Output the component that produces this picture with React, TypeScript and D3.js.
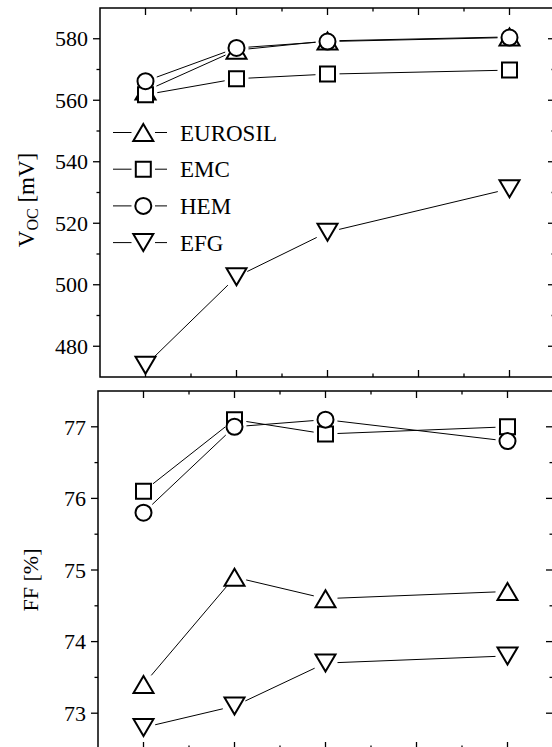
import React from 'react'
import * as d3 from 'd3'

// x positions of the four measurements (tick labels are not shown in the figure)
const xSteps = [1, 2, 3, 5]
const xTicks = [1, 2, 3, 4, 5]

const seriesNames = ['EUROSIL', 'EMC', 'HEM', 'EFG']
const seriesMarkers = ['up', 'square', 'circle', 'down']

// open-circuit voltage [mV]
const vocEurosil = [563, 576.3, 579.3, 580.6]
const vocEmc = [561.8, 567, 568.5, 569.8]
const vocHem = [566.2, 577, 579.1, 580.4]
const vocEfg = [473.8, 502.6, 517.1, 531.2]

// fill factor [%]
const ffEurosil = [73.4, 74.9, 74.6, 74.7]
const ffEmc = [76.1, 77.1, 76.9, 77.0]
const ffHem = [75.8, 77.0, 77.1, 76.8]
const ffEfg = [72.8, 73.1, 73.7, 73.8]

const vocTicks = [480, 500, 520, 540, 560, 580]
const ffTicks = [73, 74, 75, 76, 77]

const FONT = "'Liberation Serif', 'Times New Roman', Times, serif"

const markerPath = (kind: string) => {
  if (kind === 'up') return 'M0,-8.5L10,8.5L-10,8.5Z'
  if (kind === 'down') return 'M0,8.5L10,-8.5L-10,-8.5Z'
  if (kind === 'square') return 'M-7.5,-7.5H7.5V7.5H-7.5Z'
  return d3.symbol().type(d3.symbolCircle).size(Math.PI * 64)() || ''
}

// shorten a segment so the line stops before the markers, like Origin does
const gapSegment = (a: number[], b: number[], gap: number) => {
  const dx = b[0] - a[0], dy = b[1] - a[1]
  const len = Math.sqrt(dx * dx + dy * dy)
  if (len < gap * 2) return null
  const ux = dx / len, uy = dy / len
  return [a[0] + ux * gap, a[1] + uy * gap, b[0] - ux * gap, b[1] - uy * gap]
}

function Panel (props: any) {
  const { left, right, top, bottom, domain, ticks, minorStep, series, label, labelX, labelY, legend } = props
  const x = d3.scaleLinear().domain([0.5, 5.5]).range([left, right])
  const y = d3.scaleLinear().domain(domain).range([bottom, top])

  const majorY = ticks
  const minorY = ticks.map((t: number) => t + minorStep).filter((v: number) => v < domain[1] - 0.001)
  const majorX = xTicks
  const minorX = xTicks.slice(0, -1).map(t => t + 0.5)

  const tickLines: any[] = []
  majorY.forEach((v: number, i: number) => {
    tickLines.push(<line key={'ly' + i} x1={left - 7} x2={left} y1={y(v)} y2={y(v)} />)
    tickLines.push(<line key={'ry' + i} x1={right - 7} x2={right} y1={y(v)} y2={y(v)} />)
  })
  minorY.forEach((v: number, i: number) => {
    tickLines.push(<line key={'lmy' + i} x1={left - 3.5} x2={left} y1={y(v)} y2={y(v)} />)
    tickLines.push(<line key={'rmy' + i} x1={right - 3.5} x2={right} y1={y(v)} y2={y(v)} />)
  })
  majorX.forEach((v, i) => {
    tickLines.push(<line key={'tx' + i} x1={x(v)} x2={x(v)} y1={top} y2={top + 7} />)
    tickLines.push(<line key={'bx' + i} x1={x(v)} x2={x(v)} y1={bottom} y2={bottom - 7} />)
  })
  minorX.forEach((v, i) => {
    tickLines.push(<line key={'tmx' + i} x1={x(v)} x2={x(v)} y1={top} y2={top + 3.5} />)
    tickLines.push(<line key={'bmx' + i} x1={x(v)} x2={x(v)} y1={bottom} y2={bottom - 3.5} />)
  })

  return (
    <g>
      <g stroke='#000' strokeWidth={1.3}>{tickLines}</g>
      <rect x={left} y={top} width={right - left} height={bottom - top} fill='none' stroke='#000' strokeWidth={1.5} />
      {majorY.map((v: number) => (
        <text key={v} x={left - 12} y={y(v)} dy='0.35em' textAnchor='end' fontSize={22} style={{ fontFamily: FONT }}>{v}</text>
      ))}
      <g transform={`translate(${labelX},${labelY}) rotate(-90)`}>{label}</g>

      {series.map((values: number[], si: number) => {
        const pts = values.map((v, i) => [x(xSteps[i]), y(v)])
        const segs = pts.slice(1).map((p, i) => gapSegment(pts[i], p, 12))
        return (
          <g key={si}>
            {segs.map((s, i) => s && (
              <line key={i} x1={s[0]} y1={s[1]} x2={s[2]} y2={s[3]} stroke='#000' strokeWidth={1} />
            ))}
            {pts.map((p, i) => (
              <path key={'m' + i} d={markerPath(seriesMarkers[si])} transform={`translate(${p[0]},${p[1]})`}
                fill='#fff' stroke='#000' strokeWidth={2} />
            ))}
          </g>
        )
      })}

      {legend && seriesNames.map((name, i) => {
        const ly = 132.5 + i * 36.7
        return (
          <g key={name}>
            <line x1={113} x2={131.5} y1={ly} y2={ly} stroke='#000' strokeWidth={1} />
            <line x1={155} x2={167} y1={ly} y2={ly} stroke='#000' strokeWidth={1} />
            <path d={markerPath(seriesMarkers[i])} transform={`translate(143.3,${ly})`} fill='#fff' stroke='#000' strokeWidth={2} />
            <text x={180} y={ly} dy='0.35em' fontSize={23} style={{ fontFamily: FONT }}>{name}</text>
          </g>
        )
      })}
    </g>
  )
}

export default function App () {
  return (
    <svg width={552} height={747} style={{ position: 'absolute', left: 0, top: 0, background: '#fff' }}>
      <Panel left={100} right={555} top={8} bottom={377}
        domain={[470, 590]} ticks={vocTicks} minorStep={10}
        series={[vocEurosil, vocEmc, vocHem, vocEfg]}
        labelX={26} labelY={200} legend
        label={(
          <text textAnchor='middle' dy='0.35em' fontSize={23} style={{ fontFamily: FONT }}>
            V<tspan fontSize={16} dy={4}>OC</tspan><tspan dy={-4}> [mV]</tspan>
          </text>
        )} />
      <Panel left={98} right={553} top={391} bottom={749}
        domain={[72.5, 77.5]} ticks={ffTicks} minorStep={0.5}
        series={[ffEurosil, ffEmc, ffHem, ffEfg]}
        labelX={30} labelY={580}
        label={(
          <text textAnchor='middle' dy='0.35em' fontSize={22} style={{ fontFamily: FONT }}>FF [%]</text>
        )} />
    </svg>
  )
}
